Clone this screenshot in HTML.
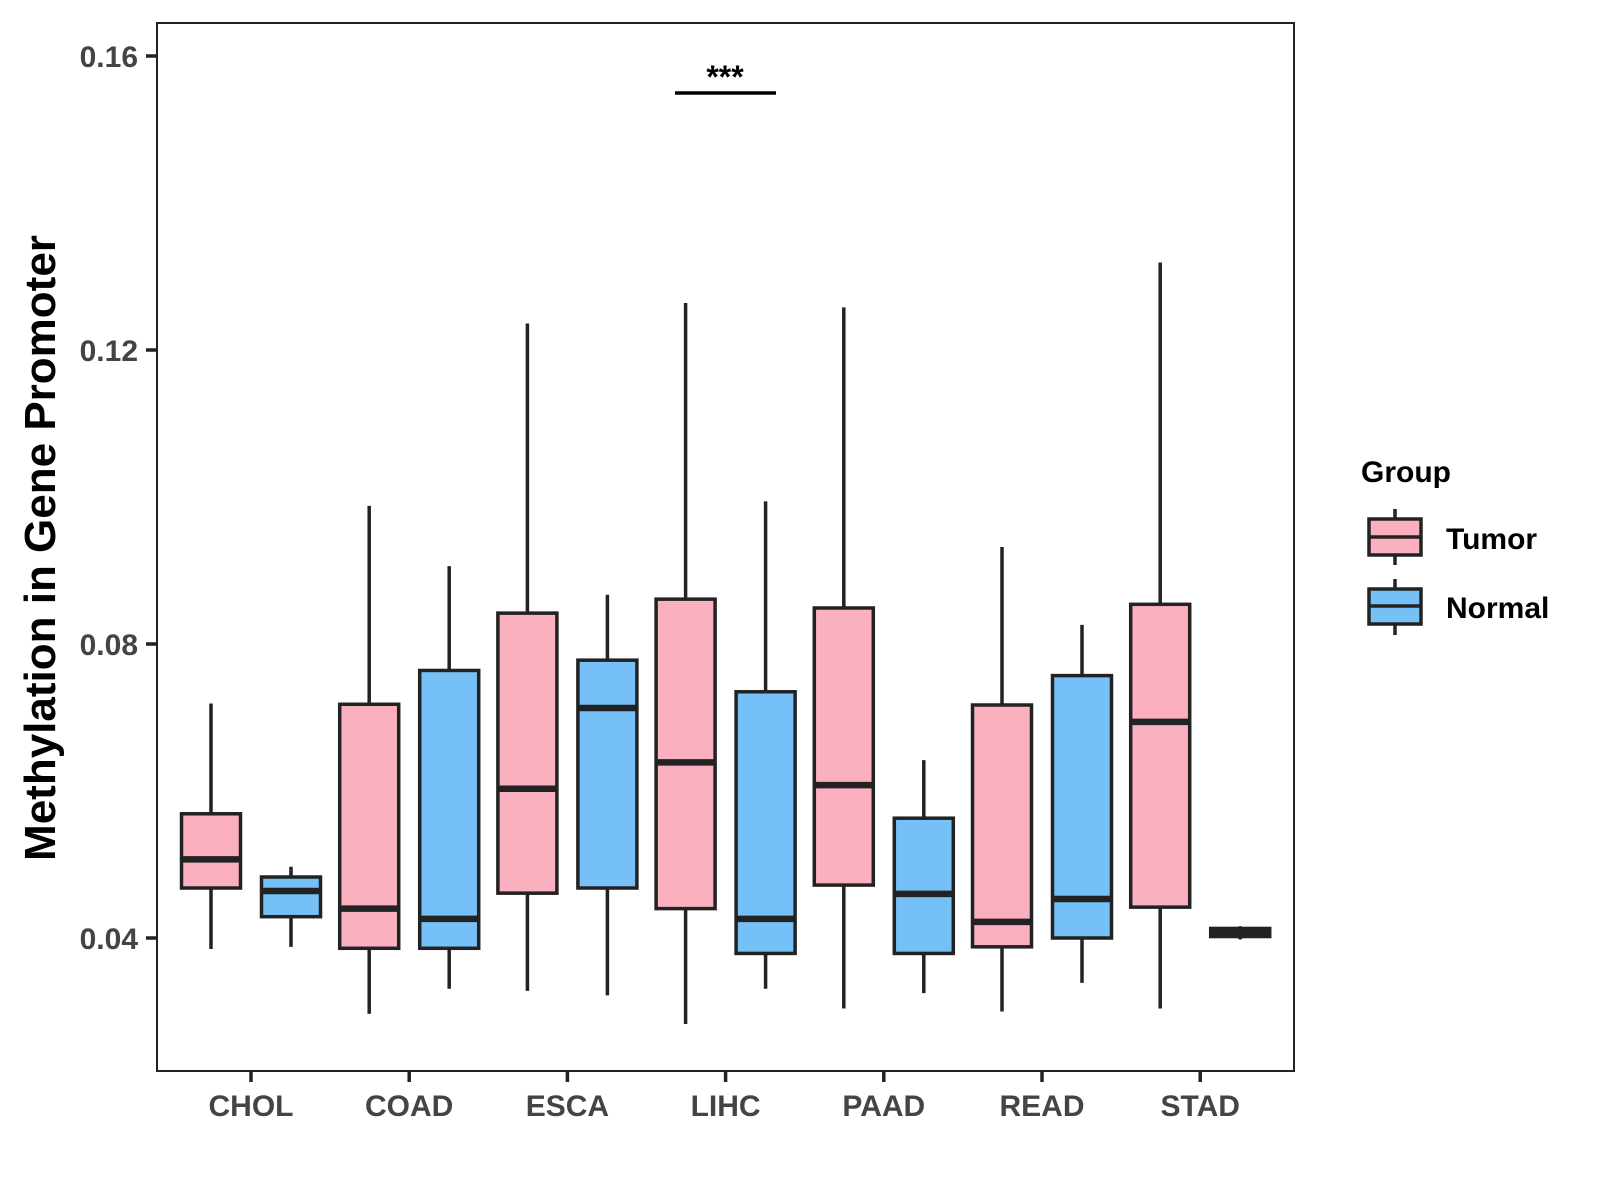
<!DOCTYPE html>
<html><head><meta charset="utf-8"><style>
html,body{margin:0;padding:0;background:#fff;}
svg{display:block;font-family:"Liberation Sans",Arial,sans-serif;}
</style></head><body>
<svg id="chart" width="1600" height="1200" viewBox="0 0 1600 1200" xmlns="http://www.w3.org/2000/svg">
<rect x="0" y="0" width="1600" height="1200" fill="#fff"/>
<rect x="157" y="23" width="1137" height="1048" fill="none" stroke="#222" stroke-width="2"/>
<g id="marks"></g>
<g id="axes"></g>
<text transform="translate(55,548) rotate(-90)" text-anchor="middle" font-size="44" font-weight="bold" fill="#000">Methylation in Gene Promoter</text>
<g>
<line x1="675" x2="776" y1="93" y2="93" stroke="#000" stroke-width="3.5"/>
<text x="725" y="88" text-anchor="middle" font-size="32" font-weight="bold" fill="#000">***</text>
</g>
<g>
<text x="1361" y="482" font-size="30" font-weight="bold" fill="#000">Group</text>
<g>
<line x1="1395" x2="1395" y1="509" y2="565" stroke="#222" stroke-width="3.5"/>
<rect x="1369" y="519" width="52" height="36" fill="#FBB0C0" stroke="#222" stroke-width="3.5"/>
<line x1="1369" x2="1421" y1="537" y2="537" stroke="#222" stroke-width="3.5"/>
<text x="1446" y="549" font-size="30" font-weight="bold" fill="#000">Tumor</text>
</g>
<g>
<line x1="1395" x2="1395" y1="579" y2="635" stroke="#222" stroke-width="3.5"/>
<rect x="1369" y="589" width="52" height="35" fill="#75C1F7" stroke="#222" stroke-width="3.5"/>
<line x1="1369" x2="1421" y1="606" y2="606" stroke="#222" stroke-width="3.5"/>
<text x="1446" y="618" font-size="30" font-weight="bold" fill="#000">Normal</text>
</g>
</g>
</svg>
<script>
const categories = ["CHOL","COAD","ESCA","LIHC","PAAD","READ","STAD"];
const groups = ["Tumor","Normal"];
// [whiskerLow, q1, median, q3, whiskerHigh]
const tumorStats = [
 [0.0385,0.0468,0.0507,0.0569,0.0719],
 [0.0297,0.0386,0.0440,0.0718,0.0988],
 [0.0328,0.0461,0.0603,0.0842,0.1236],
 [0.0283,0.0440,0.0639,0.0861,0.1264],
 [0.0304,0.0472,0.0608,0.0849,0.1258],
 [0.0300,0.0388,0.0422,0.0717,0.0932],
 [0.0304,0.0442,0.0694,0.0854,0.1319]
];
const normalStats = [
 [0.0388,0.0429,0.0464,0.0483,0.0497],
 [0.0331,0.0386,0.0426,0.0764,0.0906],
 [0.0322,0.0468,0.0713,0.0778,0.0867],
 [0.0331,0.0379,0.0426,0.0735,0.0994],
 [0.0325,0.0379,0.0460,0.0563,0.0642],
 [0.0339,0.0400,0.0453,0.0757,0.0826],
 [0.0398,0.0402,0.0407,0.0413,0.0416]
];
const yTicks = [0.04,0.08,0.12,0.16];
const yTickLabels = ["0.04","0.08","0.12","0.16"];

const NS="http://www.w3.org/2000/svg";
function yScale(v){return 938-(v-0.04)/0.04*294;}
function xScale(i){return 251+i*158.2;}
function mk(tag,attrs,parent){const e=document.createElementNS(NS,tag);for(const k in attrs)e.setAttribute(k,attrs[k]);parent.appendChild(e);return e;}
const marks=document.getElementById('marks');
const axes=document.getElementById('axes');
const fills=["#FBB0C0","#75C1F7"];
const bw=59;
[tumorStats,normalStats].forEach((series,gi)=>{
 series.forEach((s,i)=>{
  const cx=xScale(i)+(gi===0?-40:40);
  const g=mk('g',{},marks);
  
  
  mk('line',{x1:cx,x2:cx,y1:yScale(s[0]),y2:yScale(s[4]),stroke:'#222','stroke-width':3.5},g);
  const top=yScale(s[3]),bot=yScale(s[1]);
  mk('rect',{x:cx-bw/2,y:top,width:bw,height:Math.max(bot-top,1),fill:fills[gi],stroke:'#222','stroke-width':3.5},g);
  mk('line',{x1:cx-bw/2,x2:cx+bw/2,y1:yScale(s[2]),y2:yScale(s[2]),stroke:'#222','stroke-width':6.5},g);
 });
});
yTicks.forEach((v,i)=>{
 const y=yScale(v);
 const t=mk('line',{x1:146,x2:157,y1:y,y2:y,stroke:'#222','stroke-width':3.5},axes);
 
 
 const l=mk('text',{x:138,y:y+11,'text-anchor':'end','font-size':30,'font-weight':'bold',fill:'#444'},axes);
 l.textContent=yTickLabels[i];
 
 
});
categories.forEach((c,i)=>{
 const x=xScale(i);
 const t=mk('line',{x1:x,x2:x,y1:1071,y2:1082,stroke:'#222','stroke-width':3.5},axes);
 
 
 const l=mk('text',{x:x,y:1116,'text-anchor':'middle','font-size':30,'font-weight':'bold',fill:'#444'},axes);
 l.textContent=c;
 
 
});
</script>
</body></html>
